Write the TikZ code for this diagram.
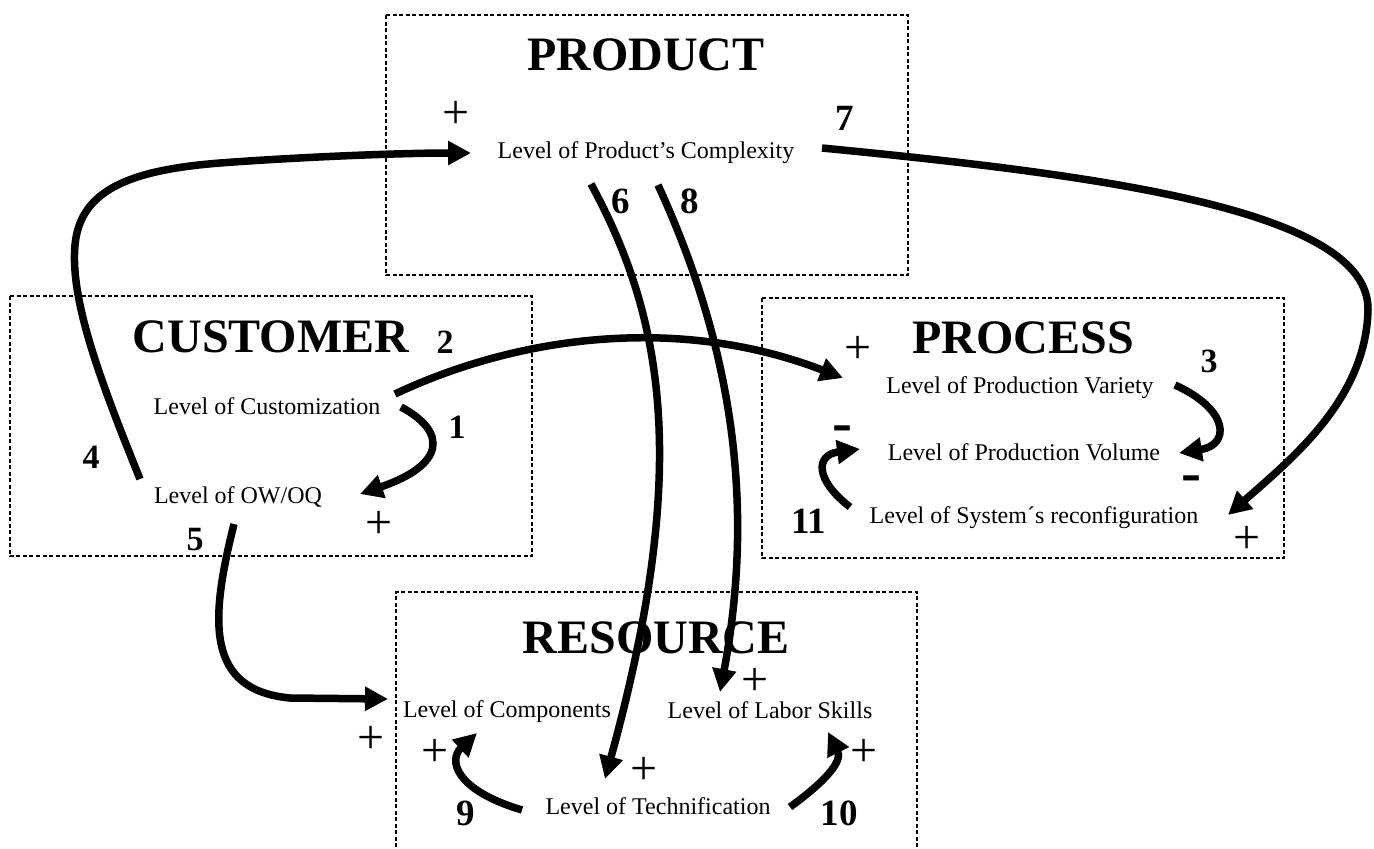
\documentclass[tikz,border=0pt]{standalone}
\usepackage{fontspec}
\setmainfont{Liberation Serif}
\usetikzlibrary{arrows.meta}
\begin{document}
\begin{tikzpicture}[x=1pt,y=-1pt,
  box/.style={draw, line width=1.5pt, dash pattern=on 4pt off 2.5pt},
  title/.style={font=\fontsize{48}{48}\selectfont\bfseries, inner sep=0, anchor=base},
  lab/.style={font=\fontsize{24}{24}\selectfont, inner sep=0, anchor=base},
  num/.style={font=\fontsize{37}{37}\selectfont\bfseries, inner sep=0, anchor=base},
  snum/.style={font=\fontsize{34}{34}\selectfont\bfseries, inner sep=0, anchor=base},
  sgn/.style={font=\fontsize{48}{48}\selectfont, inner sep=0, anchor=base, text height=24pt, text depth=0pt},
  neg/.style={font=\fontsize{60}{60}\selectfont\bfseries, inner sep=0, anchor=base},
  link/.style={line width=7.5pt, -{Triangle[length=23pt,width=23pt]}},
]
\useasboundingbox (0,0) rectangle (1374,849);
\fill[white] (0,0) rectangle (1374,849);

% boxes
\draw[box] (386,15) rectangle (908,275);
\draw[box] (10,296) rectangle (532,556);
\draw[box] (762,298) rectangle (1284,558);
\draw[box] (396,860) -- (396,592) -- (917,592) -- (917,860);

% titles
\node[title] (tprod) at (646,70) {PRODUCT};
\node[title] (tcust) at (271,352) {CUSTOMER};
\node[title] (tproc) at (1023,353) {PROCESS};
\node[title] (tres) at (656,653) {RESOURCE};

% labels
\node[lab] (comp) at (646,158) {Level of Product’s Complexity};
\node[lab] (cz) at (267,414) {Level of Customization};
\node[lab] (ow) at (238,503) {Level of OW/OQ};
\node[lab] (pv) at (1020,393) {Level of Production Variety};
\node[lab] (pvol) at (1024,460) {Level of Production Volume};
\node[lab] (sr) at (1034,523) {Level of System´s reconfiguration};
\node[lab] (lc) at (507,717) {Level of Components};
\node[lab] (ls) at (770,718) {Level of Labor Skills};
\node[lab] (lt) at (658,814) {Level of Technification};

% numbers
\node[num] (n7) at (845,130) {7};
\node[num] (n6) at (621,213) {6};
\node[num] (n8) at (690,213) {8};
\node[snum] (n2) at (445,353) {2};
\node[snum] (n1) at (457,438) {1};
\node[snum] (n4) at (91,468) {4};
\node[snum] (n5) at (195,550) {5};
\node[snum] (n3) at (1209,372) {3};
\node[num] (n11) at (809,533) {11};
\node[num] (n9) at (466,825) {9};
\node[num] (n10) at (839,825) {10};

% signs
\node[sgn] (p1) at (456,128) {+};
\node[sgn] (p2) at (379,538) {+};
\node[sgn] (p3) at (858,363) {+};
\node[sgn] (p4) at (1247,553) {+};
\node[sgn] (p5) at (755,695) {+};
\node[sgn] (p6) at (435,766) {+};
\node[sgn] (p7) at (644,784) {+};
\node[sgn] (p8) at (864,766) {+};
\node[sgn] (p9) at (371,753) {+};
\node[neg] (m1) at (842,442) {-};
\node[neg] (m2) at (1191,492) {-};

% connector end points
\coordinate (s1) at (401,407);  \coordinate (e1) at (360,494);
\coordinate (s2) at (395,394);  \coordinate (e2) at (843,378);
\coordinate (s3) at (1175,385); \coordinate (e3) at (1179,453);
\coordinate (s4) at (140,479);  \coordinate (e4) at (471,153);
\coordinate (s5) at (234,524);  \coordinate (e5) at (388,699);
\coordinate (s6) at (591,184);  \coordinate (e6) at (605,779);
\coordinate (s7) at (822,148);  \coordinate (e7) at (1228,515);
\coordinate (s8) at (658,185);  \coordinate (e8) at (720,692);
\coordinate (s9) at (522,810);  \coordinate (e9) at (477,733);
\coordinate (s10) at (790,807); \coordinate (e10) at (828,732);
\coordinate (s11) at (850,507); \coordinate (e11) at (860,449);

% connectors
\draw[link] (s1) .. controls (448,432) and (445,465) .. (e1);
\draw[link] (s2) .. controls (520,335) and (680,315) .. (e2);
\draw[link] (s3) .. controls (1230,410) and (1230,445) .. (e3);
\draw[link] (s4) .. controls (100,380) and (70,300) .. (75,245)
                 .. controls (80,190) and (130,170) .. (220,163)
                 .. controls (300,157) and (400,153) .. (e4);
\draw[link] (s5) .. controls (210,620) and (205,690) .. (290,698) -- (e5);
\draw[link] (s6) .. controls (665,320) and (690,470) .. (e6);
\draw[link] (s7) .. controls (1100,175) and (1370,210) .. (1368,310)
                 .. controls (1366,400) and (1290,460) .. (e7);
\draw[link] (s8) .. controls (720,320) and (760,480) .. (e8);
\draw[link] (s9) .. controls (455,790) and (448,760) .. (e9);
\draw[link] (s10) .. controls (830,778) and (842,760) .. (e10);
\draw[link] (s11) .. controls (815,480) and (815,455) .. (e11);
\end{tikzpicture}
\end{document}
